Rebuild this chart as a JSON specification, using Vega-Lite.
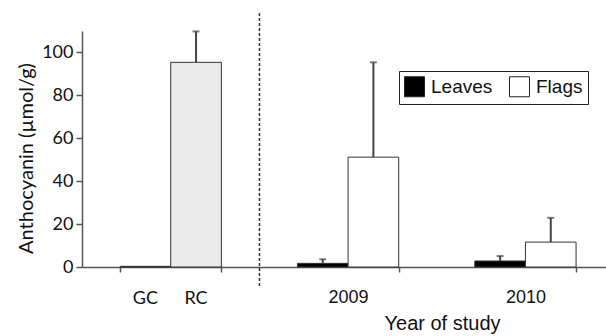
{
  "$schema": "https://vega.github.io/schema/vega-lite/v6.json",
  "width": 524,
  "height": 236,
  "autosize": {"type": "none"},
  "padding": {"left": 82, "top": 31, "right": 0, "bottom": 69},
  "background": "white",
  "config": {"view": {"stroke": null}},
  "data": {
    "values": [
      {"group": "Control", "slot": "1", "type": "GC", "value": 0.3, "upper": null},
      {"group": "Control", "slot": "2", "type": "RC", "value": 95.4, "upper": 109.8},
      {"group": "2009", "slot": "1", "type": "Leaves", "value": 1.7, "upper": 3.6},
      {"group": "2009", "slot": "2", "type": "Flags", "value": 51.2, "upper": 95.4},
      {"group": "2010", "slot": "1", "type": "Leaves", "value": 2.8, "upper": 5.1},
      {"group": "2010", "slot": "2", "type": "Flags", "value": 11.6, "upper": 22.9}
    ]
  },
  "layer": [
    {
      "mark": {"type": "bar", "stroke": "#333", "strokeWidth": 1},
      "encoding": {
        "x": {
          "field": "group", "type": "nominal",
          "scale": {"domain": ["Control", "2009", "2010"], "paddingInner": 0.429, "paddingOuter": 0.1918, "align": 0.56},
          "axis": {
            "labelExpr": "datum.label == 'Control' ? '' : datum.label",
            "labelAngle": 0,
            "labelFont": "Liberation Sans", "labelFontSize": 18, "labelColor": "#111",
            "labelPadding": 16,
            "tickBand": "extent", "tickSize": 5, "tickColor": "#555", "tickWidth": 1.5,
            "domainColor": "#555", "domainWidth": 1.5,
            "title": "Year of study",
            "titleFont": "Liberation Sans", "titleFontSize": 20, "titleFontWeight": "normal", "titleColor": "#111",
            "titleX": 360, "titleY": 46, "titleBaseline": "top"
          }
        },
        "xOffset": {"field": "slot", "type": "nominal", "scale": {"domain": ["1", "2"], "paddingInner": 0, "paddingOuter": 0}},
        "y": {
          "field": "value", "type": "quantitative",
          "scale": {"domain": [0, 110], "nice": false},
          "axis": {
            "values": [0, 20, 40, 60, 80, 100],
            "grid": false,
            "labelFont": "Lato", "labelFontSize": 18, "labelColor": "#111", "labelPadding": 3,
            "tickSize": 6, "tickColor": "#555", "tickWidth": 1.5,
            "domainColor": "#555", "domainWidth": 1.5,
            "title": "Anthocyanin (µmol/g)",
            "titleFont": "Lato", "titleFontSize": 20, "titleFontWeight": "normal", "titleColor": "#111",
            "titlePadding": 5, "titleY": 127
          }
        },
        "color": {
          "field": "type", "type": "nominal",
          "scale": {"domain": ["GC", "RC", "Leaves", "Flags"], "range": ["#222222", "#ebebeb", "#000000", "#ffffff"]},
          "legend": {
            "values": ["Leaves", "Flags"], "title": null,
            "orient": "none", "legendX": 317, "legendY": 40, "direction": "horizontal",
            "fillColor": "white", "strokeColor": "#222", "padding": 5,
            "symbolType": "square", "symbolSize": 400, "symbolStrokeColor": "#222", "symbolStrokeWidth": 1,
            "labelFont": "Liberation Sans", "labelFontSize": 19, "labelColor": "#111", "labelOffset": 6,
            "columnPadding": 14
          }
        }
      }
    },
    {
      "transform": [{"filter": "isValid(datum.upper)"}],
      "mark": {"type": "rule", "color": "#444", "strokeWidth": 2},
      "encoding": {
        "x": {"field": "group", "type": "nominal"},
        "xOffset": {"field": "slot", "type": "nominal"},
        "y": {"field": "value", "type": "quantitative"},
        "y2": {"field": "upper"}
      }
    },
    {
      "transform": [{"filter": "isValid(datum.upper)"}],
      "mark": {"type": "tick", "color": "#444", "size": 7, "thickness": 2, "orient": "horizontal"},
      "encoding": {
        "x": {"field": "group", "type": "nominal"},
        "xOffset": {"field": "slot", "type": "nominal"},
        "y": {"field": "upper", "type": "quantitative"}
      }
    },
    {
      "transform": [{"filter": "datum.group == 'Control'"}],
      "mark": {"type": "text", "font": "Lato", "fontSize": 18, "color": "#111", "baseline": "middle"},
      "encoding": {
        "x": {"field": "group", "type": "nominal"},
        "xOffset": {"field": "slot", "type": "nominal"},
        "y": {"datum": -15, "type": "quantitative"},
        "text": {"field": "type"}
      }
    },
    {
      "data": {"values": [{}]},
      "mark": {"type": "rule", "color": "#333", "strokeWidth": 1.5, "strokeDash": [3, 2]},
      "encoding": {
        "x": {"datum": "2009", "type": "nominal", "bandPosition": -0.375},
        "y": {"datum": 118.4, "type": "quantitative"},
        "y2": {"datum": -9.3}
      }
    }
  ]
}
